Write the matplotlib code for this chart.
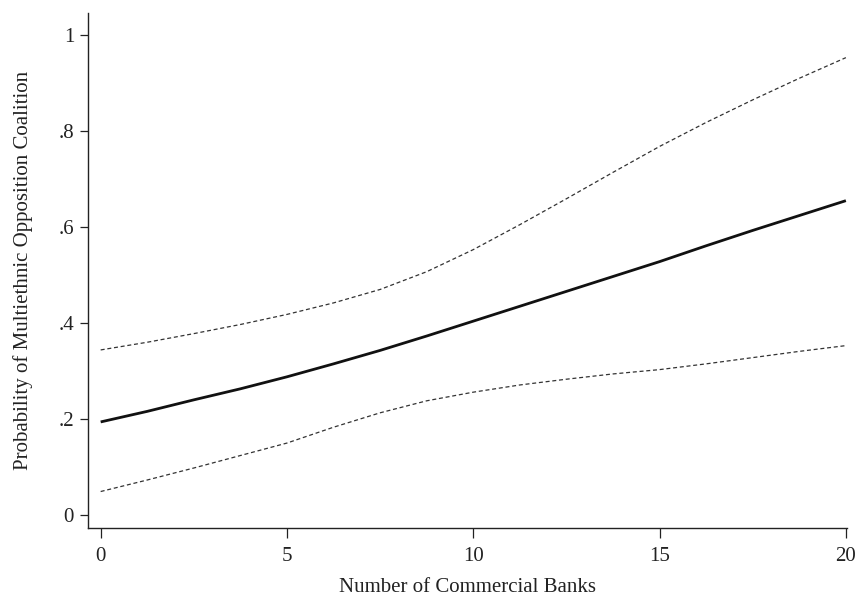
import matplotlib
matplotlib.use("Agg")
import matplotlib.pyplot as plt

# Predicted probability and 95% bounds
banks = [0, 1.25, 2.5, 3.75, 5, 6.25, 7.5, 8.75, 10,
         11.25, 12.5, 13.75, 15, 16.25, 17.5, 18.75, 20]
prob_mean = [0.194, 0.216, 0.240, 0.263, 0.288, 0.315, 0.343, 0.373, 0.404,
             0.435, 0.466, 0.497, 0.528, 0.561, 0.593, 0.624, 0.655]
prob_upper = [0.344, 0.360, 0.378, 0.397, 0.418, 0.442, 0.470, 0.507, 0.553,
              0.605, 0.659, 0.714, 0.768, 0.818, 0.865, 0.910, 0.953]
prob_lower = [0.049, 0.073, 0.098, 0.124, 0.150, 0.183, 0.213, 0.238, 0.256,
              0.271, 0.283, 0.294, 0.303, 0.315, 0.328, 0.341, 0.353]

x_ticks = [0, 5, 10, 15, 20]
y_ticks = [0, 0.2, 0.4, 0.6, 0.8, 1.0]
y_tick_labels = ["0", ".2", ".4", ".6", ".8", "1"]

plt.rcParams['font.family'] = ['Liberation Serif', 'DejaVu Serif']
ink = '#222222'

fig = plt.figure(figsize=(8.58, 6.03), dpi=100)
ax = fig.add_axes([88 / 858, 1 - 528 / 603, 759 / 858, 515 / 603])

# fitted probability (solid) and confidence bounds (dashed)
ax.plot(banks, prob_mean, color='#111111', lw=2.0, solid_capstyle='butt')
ax.plot(banks, prob_upper, color='#333333', lw=0.9, dashes=(3.2, 2.2))
ax.plot(banks, prob_lower, color='#333333', lw=0.9, dashes=(3.2, 2.2))

ax.set_xlim(-0.34, 20.03)
ax.set_ylim(-0.027, 1.046)
ax.set_xticks(x_ticks)
ax.set_yticks(y_ticks)
ax.set_yticklabels(y_tick_labels)

for side in ['top', 'right']:
    ax.spines[side].set_visible(False)
for side in ['left', 'bottom']:
    ax.spines[side].set_color(ink)
    ax.spines[side].set_linewidth(1.0)

ax.tick_params(axis='x', length=7.5, width=0.9, color=ink, labelcolor=ink,
               labelsize=15, pad=6)
ax.tick_params(axis='y', length=6, width=0.9, color=ink, labelcolor=ink,
               labelsize=15, pad=4)

ax.set_xlabel("Number of Commercial Banks", fontsize=15, color=ink, va='center')
ax.set_ylabel("Probability of Multiethnic Opposition Coalition", fontsize=15,
              color=ink, va='center')
ax.xaxis.set_label_coords(0.5, (528 - 587) / 515)
ax.yaxis.set_label_coords((23 - 88) / 759, 0.5)

fig.savefig("out.png", dpi=100)
